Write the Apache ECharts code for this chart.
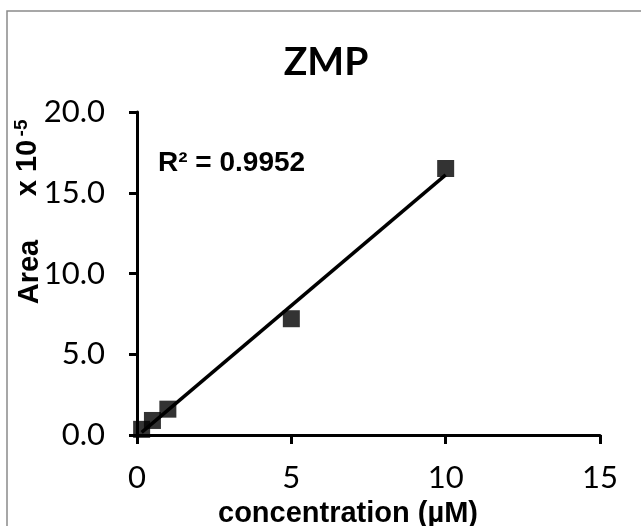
<!DOCTYPE html>
<html>
<head>
<meta charset="utf-8">
<script src="https://cdn.jsdelivr.net/npm/echarts@6/dist/echarts.min.js"></script>
<style>
  html, body { margin: 0; padding: 0; background: #fff; }
  #chart { width: 641px; height: 526px; }
</style>
</head>
<body>
<div id="chart"></div>
<script>
// Calibration data for ZMP: peak area (x 10^-5) against concentration (µM)
const concentration = [0.15, 0.5, 1, 5, 10];
const area = [0.35, 0.9, 1.6, 7.2, 16.5];
const xTicks = [0, 5, 10, 15];
const yTicks = [0, 5, 10, 15, 20];
const r2Text = 'R\u00b2 = 0.9952';

// Least-squares line over the measured range
function linearFit(xs, ys) {
  const n = xs.length;
  const mx = xs.reduce((a, b) => a + b, 0) / n;
  const my = ys.reduce((a, b) => a + b, 0) / n;
  let sxy = 0, sxx = 0;
  for (let i = 0; i < n; i++) {
    sxy += (xs[i] - mx) * (ys[i] - my);
    sxx += (xs[i] - mx) * (xs[i] - mx);
  }
  const slope = sxy / sxx;
  return { slope, intercept: my - slope * mx };
}
const fit = linearFit(concentration, area);
const xMin = Math.min(...concentration);
const xMax = Math.max(...concentration);
const trend = [
  [xMin, fit.intercept + fit.slope * xMin],
  [xMax, fit.intercept + fit.slope * xMax]
];
const points = concentration.map((c, i) => [c, area[i]]);

const chart = echarts.init(document.getElementById('chart'), null, { renderer: 'canvas' });
const boldSans = '"Liberation Sans", Arial, sans-serif';
const tickFont = 'Lato, "Open Sans", sans-serif';

chart.setOption({
  animation: false,
  backgroundColor: '#ffffff',
  grid: { left: 137, right: 41, top: 112, bottom: 91, containLabel: false },
  xAxis: {
    type: 'value',
    min: xTicks[0],
    max: xTicks[xTicks.length - 1],
    interval: 5,
    splitLine: { show: false },
    axisLine: { show: true, onZero: false, lineStyle: { color: '#000', width: 3 } },
    axisTick: { show: true, inside: false, length: 9, lineStyle: { color: '#000', width: 3 } },
    axisLabel: { color: '#000', fontFamily: tickFont, fontSize: 31, margin: 27 }
  },
  yAxis: {
    type: 'value',
    min: yTicks[0],
    max: yTicks[yTicks.length - 1],
    interval: 5,
    splitLine: { show: false },
    axisLine: { show: true, onZero: false, lineStyle: { color: '#000', width: 3 } },
    axisTick: { show: true, inside: false, length: 8, lineStyle: { color: '#000', width: 3 } },
    axisLabel: {
      color: '#000', fontFamily: tickFont, fontSize: 31, margin: 32,
      formatter: v => v.toFixed(1)
    }
  },
  series: [
    {
      type: 'line',
      data: trend,
      symbol: 'none',
      lineStyle: { color: '#000', width: 3.5 },
      z: 2
    },
    {
      type: 'scatter',
      data: points,
      symbol: 'rect',
      symbolSize: 17,
      itemStyle: { color: '#000' },
      z: 3
    }
  ],
  graphic: [
    {
      type: 'rect',
      shape: { x: 7, y: 11, width: 700, height: 600 },
      style: { fill: 'none', stroke: '#8a8a8a', lineWidth: 1.5 },
      silent: true, z: 0
    },
    {
      type: 'text', x: 326, y: 62,
      style: { text: 'ZMP', font: 'bold 39px Lato, sans-serif', fill: '#000', textAlign: 'center', textVerticalAlign: 'middle' }
    },
    {
      type: 'text', x: 158, y: 163,
      style: { text: r2Text, font: 'bold 28px ' + boldSans, fill: '#000', textAlign: 'left', textVerticalAlign: 'middle' }
    },
    {
      type: 'text', x: 348, y: 514,
      style: { text: 'concentration (\u00b5M)', font: 'bold 29px ' + boldSans, fill: '#000', textAlign: 'center', textVerticalAlign: 'middle' }
    },
    {
      type: 'text', x: 30, y: 272, rotation: Math.PI / 2,
      style: { text: 'Area', font: 'bold 29px ' + boldSans, fill: '#000', textAlign: 'center', textVerticalAlign: 'middle' }
    },
    {
      type: 'text', x: 28, y: 168, rotation: Math.PI / 2,
      style: { text: 'x 10', font: 'bold 29px ' + boldSans, fill: '#000', textAlign: 'center', textVerticalAlign: 'middle' }
    },
    {
      type: 'text', x: 22, y: 128, rotation: Math.PI / 2,
      style: { text: '-5', font: 'bold 19px ' + boldSans, fill: '#000', textAlign: 'center', textVerticalAlign: 'middle' }
    }
  ]
});
</script>
</body>
</html>
